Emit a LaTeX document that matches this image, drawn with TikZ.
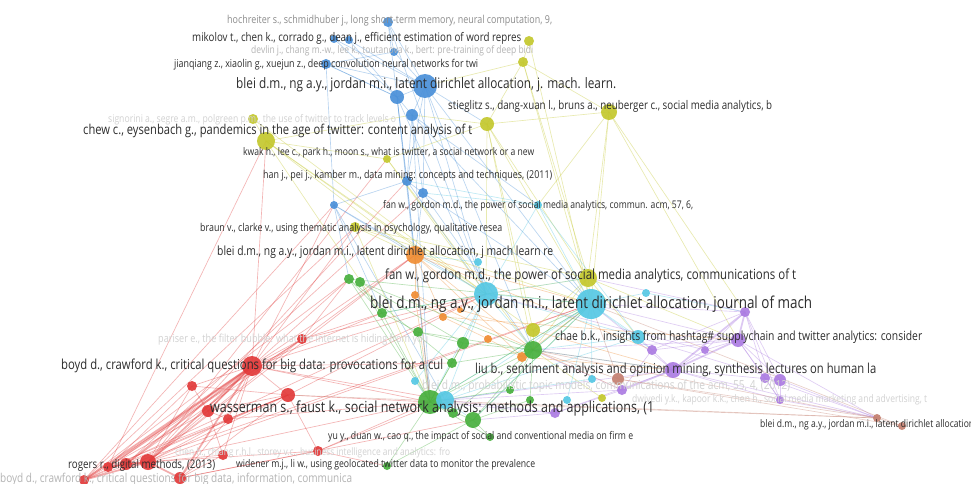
\documentclass[tikz,border=0pt]{standalone}
\usepackage{fontspec}
\setmainfont{Open Sans}
\usepackage{graphicx}
\definecolor{cbl}{RGB}{74,144,217}
\definecolor{cye}{RGB}{196,200,46}
\definecolor{ccy}{RGB}{86,200,228}
\definecolor{cor}{RGB}{240,142,52}
\definecolor{cgr}{RGB}{72,176,62}
\definecolor{cpu}{RGB}{172,124,226}
\definecolor{cre}{RGB}{226,58,58}
\definecolor{cbr}{RGB}{196,128,112}
\definecolor{tdark}{RGB}{45,45,45}
\definecolor{tmid}{RGB}{140,140,140}
\definecolor{tlight}{RGB}{180,180,180}
\definecolor{tfaint}{RGB}{210,210,210}
\newcommand\lab[6]{\node[anchor=west,inner sep=0pt,text=#4] (#1) at (#2,#3) {\scalebox{1}[1.22]{\resizebox{#5pt}{!}{#6}}};}
\newcommand\edgeset[3]{\foreach \a/\b in {#3} {\draw[#1,#2] (\a) -- (\b);}}
\def\NB{b1/388/22/5,b2/334/39/4,b3/349/40/4,b4/394/52/4,b5/326/64/5,b6/425/86/12,b7/397/97/7,b8/412/115/6,b9/407/181/5,b10/423/193/5,b11/334/205/4}
\def\NY{y1/529/41/5,y2/523/62/5,y3/487/124/7,y4/609/112/8,y5/253/119/5,y6/266/141/9,y7/387/159/4,y8/355/227/5,y9/588/278/9,y10/533/330/7,y11/602/398/4}
\def\NC{c1/538/205/4,c2/478/262/4,c3/486/294/12,c4/591/304/15,c5/646/293/4,c6/638/337/7,c7/592/379/4,c8/415/381/4,c9/445/400/9,c10/567/400/4}
\def\NO{o1/415/255/9,o2/415/295/4,o3/443/317/4,o4/460/310/3,o5/488/339/4,o6/522/357/5}
\def\NG{g1/349/279/5,g2/360/282/5,g3/382/313/5,g4/418/332/5,g5/463/343/6,g6/533/350/9,g7/452/363/5,g8/430/402/12,g9/473/420/8,g10/453/413/5,g11/530/400/4,g12/387/466/4,g13/510/390/4,g14/490/437/4}
\def\NP{p1/745/312/5,p2/652/350/5,p3/705/350/4,p4/738/340/7,p5/673/370/8,p6/780/380/6,p7/780/400/4,p8/622/390/5,p9/555/413/5,p10/765/378/5}
\def\NR{r1/302/339/5,r2/252/366/10,r3/192/386/5,r4/288/395/7,r5/208/411/6,r6/228/419/5,r7/223/455/5,r8/318/451/5,r9/148/462/8,r10/126/464/6,r11/108/467/5,r12/180/478/6,r13/84/480/5}
\def\NBR{r0/618/379/6,br1/877/418/4,br2/902/426/4}
\begin{document}
\begin{tikzpicture}[x=1pt,y=-1pt,
  eb/.style={draw opacity=0.38,line width=0.65pt},
  ebt/.style={draw opacity=0.42,line width=1.7pt},
  dot/.style={fill opacity=0.92}]
\useasboundingbox (0,0) rectangle (971,484);
\fill[white] (0,0) rectangle (971,484);
% coordinates
\foreach \n/\x/\y/\r in \NB {\coordinate (\n) at (\x,\y);}
\foreach \n/\x/\y/\r in \NY {\coordinate (\n) at (\x,\y);}
\foreach \n/\x/\y/\r in \NC {\coordinate (\n) at (\x,\y);}
\foreach \n/\x/\y/\r in \NO {\coordinate (\n) at (\x,\y);}
\foreach \n/\x/\y/\r in \NG {\coordinate (\n) at (\x,\y);}
\foreach \n/\x/\y/\r in \NP {\coordinate (\n) at (\x,\y);}
\foreach \n/\x/\y/\r in \NR {\coordinate (\n) at (\x,\y);}
\foreach \n/\x/\y/\r in \NBR {\coordinate (\n) at (\x,\y);}
% edges
\edgeset{eb}{cre}{r2/r3,r2/r4,r2/r5,r2/r6,r2/r1,r2/r7,r2/g8,r2/g3,r2/g7,r2/c9,r2/y6,r2/b11,r2/o1,r2/c3,r2/g1,r2/y8,r9/r5,r9/r6,r9/r4,r9/r7,r9/r8,r9/r3,r9/r1,r9/b9,r9/o1,r9/c4,r9/g8,r13/r5,r13/r4,r13/b11,r13/y8,r13/g1,r13/c3,r13/r1,r11/r4,r11/r3,r11/r1,r11/y6,r12/r7,r12/r8,r12/r6,r4/r5,r4/r6,r4/r8,r4/g8,r8/g8,r8/g12,r8/c9,r7/r5,r1/g1,r1/o1,r5/r6,r10/b10,r9/y7,r12/g9,r13/c4,r3/r5,r6/g8,r4/c3,r1/c3,r10/r4,r10/r1,r12/r4,r3/r4,r1/g3}
\edgeset{ebt}{cre}{r2/r9,r2/r10,r2/r11,r2/r12,r2/r13,r9/r10,r9/r11,r9/r12,r9/r13,r10/r11,r2/r5}
\edgeset{eb}{cbl}{b6/b7,b6/b8,b6/b1,b6/b4,b6/b5,b6/b3,b6/b2,b6/c3,b6/c4,b6/g6,b6/y3,b6/b9,b6/b10,b7/b8,b7/b5,b7/b9,b7/c3,b8/b9,b8/b10,b8/c4,b8/g8,b1/b4,b1/b7,b4/b5,b5/b7,b9/b10,b9/c3,b10/c4,b10/g6,b10/o1,b11/o1,b11/c3,b11/g3,b11/b9,b11/c9,b5/b11,b1/c3,b2/b7,b3/b7,b7/g8,b9/g8,b11/g1,b8/c1,b7/o1}
\edgeset{eb}{cye}{y4/y3,y4/y9,y4/c4,y4/c1,y4/p1,y4/p4,y4/y2,y3/b8,y3/y9,y3/c4,y3/c3,y3/g6,y3/y10,y1/y2,y2/b6,y2/y3,y2/c4,y2/y9,y6/y7,y6/b8,y6/c3,y6/g3,y6/o1,y6/y10,y6/y5,y7/y3,y7/c3,y8/y9,y8/g8,y8/o1,y9/c3,y9/c4,y9/g6,y9/y10,y10/g6,y10/c4,y11/g6,y7/g6,y5/c3,y1/c4,y8/c4,y9/p4,y9/c6}
\edgeset{eb}{ccy}{c3/c4,c3/o1,c3/g8,c3/c9,c3/g6,c3/y9,c3/c2,c4/c5,c4/c6,c4/g6,c4/g8,c4/c9,c4/c7,c4/y10,c1/c3,c1/c4,c1/c6,c1/b9,c2/o1,c6/g6,c6/c9,c7/c9,c8/g8,c8/c3,c9/g9,c10/c4,c5/p1,c3/g3,c4/g9,c6/c3,c1/b10,c4/p2,c3/g5}
\edgeset{eb}{cor}{o1/o2,o1/o3,o1/c4,o1/g6,o1/o6,o2/o3,o3/p4,o3/o5,o4/p5,o5/o6,o6/p5,o2/g8,o6/c4,o1/p2,o1/g8,o2/p8}
\edgeset{eb}{cgr}{g8/g9,g8/g10,g8/g7,g8/g5,g8/g4,g8/g6,g8/g3,g8/g1,g8/g2,g8/g12,g8/g14,g8/c4,g9/g6,g9/g14,g6/g5,g6/g7,g6/g11,g6/c4,g5/g4,g5/g7,g3/g1,g3/g4,g2/g6,g1/c4,g12/g9,g13/g6,g13/g8,g11/g9,g10/g6,g4/g6,g2/g5,g1/g7,g3/c3,g9/c4,g6/p5}
\edgeset{eb}{cpu}{p1/p2,p1/p6,p1/p7,p4/p6,p4/p7,p4/p3,p2/p5,p3/p5,p5/p6,p5/p7,p5/p9,p8/p9,p2/p8,p6/p7,p6/br1,p7/br1,p4/br1,p5/br1,p1/c4,p5/c4,p4/c4,p4/g6,p5/g6,p9/g8,p8/g6,p1/y9,p6/c6,p2/c6,p5/c9,p9/c9,p3/c3,p10/p4,p10/p1,p10/br1,p7/p10,p9/g9,p8/c9,p1/p3,p2/p4}
\edgeset{ebt}{cpu}{p1/p4,p1/p5,p4/p5,p5/p8}
\edgeset{eb}{cbr}{r0/br1,r0/br2,br1/br2,r0/p5,r0/g6,r0/c4,br1/g6,br2/c4,br1/g8,br1/r4}
% nodes
\foreach \n/\x/\y/\r in \NR {\fill[cre,dot] (\n) circle (\r pt);}
\foreach \n/\x/\y/\r in \NB {\fill[cbl,dot] (\n) circle (\r pt);}
\foreach \n/\x/\y/\r in \NY {\fill[cye,dot] (\n) circle (\r pt);}
\foreach \n/\x/\y/\r in \NO {\fill[cor,dot] (\n) circle (\r pt);}
\foreach \n/\x/\y/\r in \NG {\fill[cgr,dot] (\n) circle (\r pt);}
\foreach \n/\x/\y/\r in \NC {\fill[ccy,dot] (\n) circle (\r pt);}
\foreach \n/\x/\y/\r in \NP {\fill[cpu,dot] (\n) circle (\r pt);}
\foreach \n/\x/\y/\r in \NBR {\fill[cbr,dot] (\n) circle (\r pt);}
% labels
\lab{L1}{227}{21}{tmid}{325}{hochreiter s., schmidhuber j., long short-term memory, neural computation, 9,}
\lab{L2}{192}{38}{tdark}{329}{mikolov t., chen k., corrado g., dean j., efficient estimation of word repres}
\lab{L3}{251}{51}{tlight}{282}{devlin j., chang m.-w., lee k., toutanova k., bert: pre-training of deep bidi}
\lab{L4}{174}{65}{tdark}{304}{jianqiang z., xiaolin g., xuejun z., deep convolution neural networks for twi}
\lab{L5}{236}{85}{tdark}{380}{blei d.m., ng a.y., jordan m.i., latent dirichlet allocation, j. mach. learn.}
\lab{L6}{448}{106}{tdark}{324}{stieglitz s., dang-xuan l., bruns a., neuberger c., social media analytics, b}
\lab{L7}{108}{120}{tfaint}{288}{signorini a., segre a.m., polgreen p.m., the use of twitter to track levels o}
\lab{L8}{83}{131}{tdark}{389}{chew c., eysenbach g., pandemics in the age of twitter: content analysis of t}
\lab{L9}{243}{153}{tdark}{291}{kwak h., lee c., park h., moon s., what is twitter, a social network or a new}
\lab{L10}{263}{176}{tdark}{289}{han j., pei j., kamber m., data mining: concepts and techniques, (2011)}
\lab{L11}{383}{206}{tdark}{310}{fan w., gordon m.d., the power of social media analytics, commun. acm, 57, 6,}
\lab{L12}{200}{229}{tdark}{302}{braun v., clarke v., using thematic analysis in psychology, qualitative resea}
\lab{L13}{217}{252}{tdark}{336}{blei d.m., ng a.y., jordan m.i., latent dirichlet allocation, j mach learn re}
\lab{L14}{385}{276}{tdark}{411}{fan w., gordon m.d., the power of social media analytics, communications of t}
\lab{L15}{370}{304}{tdark}{442}{blei d.m., ng a.y., jordan m.i., latent dirichlet allocation, journal of mach}
\lab{L16}{158}{340}{tfaint}{270}{pariser e., the filter bubble: what the internet is hiding from you}
\lab{L17}{555}{337}{tdark}{367}{chae b.k., insights from hashtag\# supplychain and twitter analytics: consider}
\lab{L18}{61}{366}{tdark}{382}{boyd d., crawford k., critical questions for big data: provocations for a cul}
\lab{L19}{475}{370}{tdark}{401}{liu b., sentiment analysis and opinion mining, synthesis lectures on human la}
\lab{L20}{422}{386}{tfaint}{368}{blei d.m., probabilistic topic models, communications of the acm, 55, 4, (2012)}
\lab{L21}{210}{408}{tdark}{444}{wasserman s., faust k., social network analysis: methods and applications, (1}
\lab{L22}{632}{400}{tfaint}{295}{dwivedi y.k., kapoor k.k., chen h., social media marketing and advertising, t}
\lab{L23}{760}{425}{tdark}{214}{blei d.m., ng a.y., jordan m.i., latent dirichlet allocation}
\lab{L24}{328}{437}{tdark}{305}{yu y., duan w., cao q., the impact of social and conventional media on firm e}
\lab{L25}{175}{453}{tfaint}{275}{chen h., chiang r.h.l., storey v.c., business intelligence and analytics: fro}
\lab{L26}{68}{465}{tdark}{147}{rogers r., digital methods, (2013)}
\lab{L27}{236}{465}{tdark}{299}{widener m.j., li w., using geolocated twitter data to monitor the prevalence}
\lab{L28}{0}{479}{tlight}{352}{boyd d., crawford k., critical questions for big data, information, communica}
\end{tikzpicture}
\end{document}
